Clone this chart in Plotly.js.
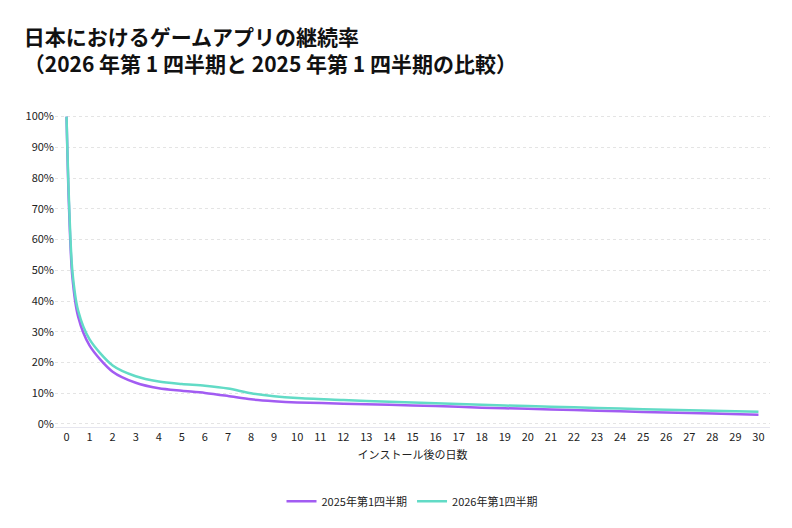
<!DOCTYPE html>
<html><head><meta charset="utf-8">
<script src="https://cdn.plot.ly/plotly-3.0.1.min.js"></script>
<style>body{margin:0;background:#fff}</style></head>
<body><div id="plot" style="width:792px;height:528px"></div>
<script>
const days = [0, 0.1, 0.25, 0.5, 1, 2, 3, 4, 5, 6, 7, 8, 9, 10, 12, 14, 16, 18, 20, 22, 24, 26, 28, 30];
const q1_2025 = [100, 72, 48, 35, 25.5, 17, 13.4, 11.6, 10.8, 10.1, 9.1, 8, 7.4, 7, 6.6, 6.2, 5.8, 5.3, 4.9, 4.5, 4.1, 3.7, 3.4, 3.0];
const q1_2026 = [100, 74, 50, 37, 27.5, 19, 15.5, 13.8, 13, 12.4, 11.5, 10, 9, 8.4, 7.8, 7.2, 6.7, 6.2, 5.8, 5.4, 5.0, 4.6, 4.3, 4.0];
const names = ['2025年第1四半期', '2026年第1四半期'];
const tickVals = Array.from({length: 31}, (_, i) => i);
const yTicks = [0,10,20,30,40,50,60,70,80,90,100];

const font = 'Noto Sans CJK JP, Noto Sans, sans-serif';
Plotly.newPlot('plot', [
  {x: days, y: q1_2025, mode: 'lines', name: names[0], line: {color: '#a25cf2', width: 2.5, shape: 'spline', smoothing: 0.8}},
  {x: days, y: q1_2026, mode: 'lines', name: names[1], line: {color: '#62dbc6', width: 2.5, shape: 'spline', smoothing: 0.8}}
], {
  width: 792, height: 528,
  font: {family: font, color: '#222', size: 11},
  title: {text: '日本におけるゲームアプリの継続率<br>（2026 年第 1 四半期と 2025 年第 1 四半期の比較）',
          x: 0.03, xanchor: 'left', y: 0.915, font: {size: 21, color: '#111', weight: 'bold'}},
  margin: {l: 55, r: 22, t: 112, b: 76},
  xaxis: {range: [-0.5, 30.5], tickvals: tickVals, showgrid: false, zeroline: false,
          showline: true, linecolor: '#e6e6ef', ticks: '', tickfont: {size: 11},
          title: {text: 'インストール後の日数', font: {size: 11}, standoff: 8}},
  yaxis: {range: [-1, 101.5], tickvals: yTicks, ticktext: yTicks.map(v => v + '%'),
          gridcolor: '#e4e4e4', griddash: 'dot', zeroline: false, tickfont: {size: 11}},
  legend: {orientation: 'h', x: 0.5, xanchor: 'center', y: -0.19, font: {size: 11}},
  showlegend: true, plot_bgcolor: '#fff', paper_bgcolor: '#fff'
}, {displayModeBar: false});
</script></body></html>
